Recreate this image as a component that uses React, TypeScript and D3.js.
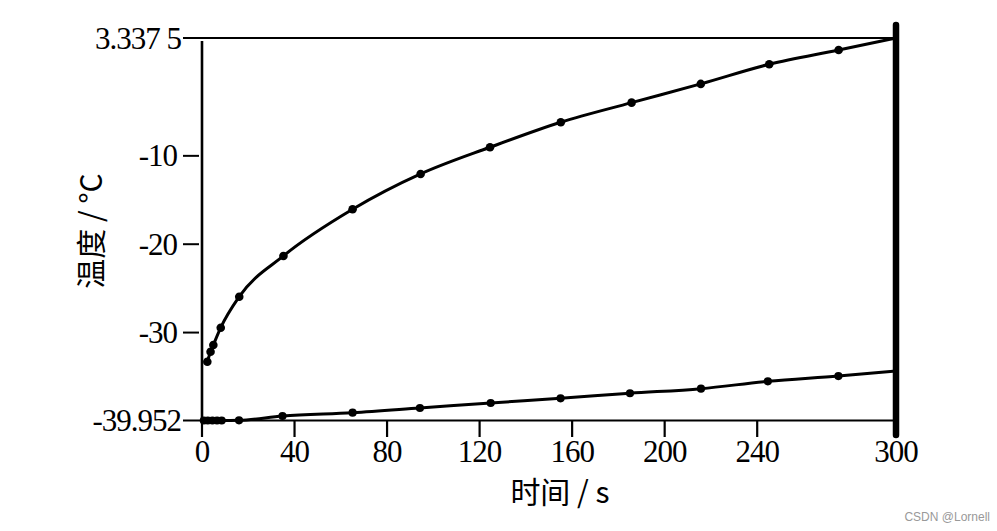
import React from "react";
import * as d3 from "d3";

const upperT = [2.3, 3.7, 4.9, 8.1, 16.1, 35.2, 65.1, 94.5, 124.5, 155.1, 185.7, 215.6, 245.2, 275.2, 300];
const upperV = [-33.3, -32.17, -31.41, -29.45, -25.94, -21.33, -16.05, -12.05, -9.03, -6.2, -3.98, -1.86, 0.36, 1.98, 3.3375];
const upperMarkers = [2.3, 3.7, 4.9, 8.1, 16.1, 35.2, 65.1, 94.5, 124.5, 155.1, 185.7, 215.6, 245.2, 275.2];

const lowerT = [0.8, 2.5, 4.5, 6.5, 8.5, 16, 34.8, 65.1, 94.2, 124.8, 155, 185, 215.7, 244.6, 275.1, 300];
const lowerV = [-39.95, -39.95, -39.95, -39.95, -39.95, -39.93, -39.44, -39.07, -38.54, -37.97, -37.44, -36.87, -36.35, -35.52, -34.92, -34.35];
const lowerMarkers = [0.8, 2.5, 4.5, 6.5, 8.5, 16, 34.8, 65.1, 94.2, 124.8, 155, 185, 215.7, 244.6, 275.1];

const xTicks = [0, 40, 80, 120, 160, 200, 240, 300];
const yShortTicks = [-10, -20, -30];
const yShortLabels = ["-10", "-20", "-30"];
const yFullTicks = [3.3375, -39.952];
const yFullLabels = ["3.337 5", "-39.952"];

const xTitle = "时间 / s";
const yTitle = "温度 / °C";
const watermark = "CSDN @Lornell";

const W = 997;
const H = 531;
const L = 202;
const R = 896;
const T = 38;
const B = 420.5;

export default function App() {
  const x = d3.scaleLinear().domain([0, 300]).range([L, R]);
  const y = d3.scaleLinear().domain([-39.952, 3.3375]).range([B, T]);
  const line = d3
    .line<[number, number]>()
    .x((d) => x(d[0]))
    .y((d) => y(d[1]))
    .curve(d3.curveMonotoneX);

  const upper: [number, number][] = upperT.map((t, i) => [t, upperV[i]]);
  const lower: [number, number][] = lowerT.map((t, i) => [t, lowerV[i]]);
  const upVal = (t: number) => upperV[upperT.indexOf(t)];
  const lowVal = (t: number) => lowerV[lowerT.indexOf(t)];

  const serif = "'Liberation Serif', 'DejaVu Serif', serif";
  const cjk = "'Noto Sans CJK SC', 'Liberation Serif', serif";
  const fs = 31;

  return (
    <svg
      width={W}
      height={H}
      style={{ position: "absolute", left: 0, top: 0, background: "#fff" }}
    >
      <rect x={0} y={0} width={W} height={H} fill="#fff" />
      {yFullTicks.map((v) => (
        <line key={"f" + v} x1={183} x2={R} y1={y(v)} y2={y(v)} stroke="#000" strokeWidth={2.2} />
      ))}
      {yFullTicks.map((v, i) => (
        <text
          key={"fl" + v}
          x={181}
          y={y(v)}
          dy="0.34em"
          textAnchor="end"
          fontFamily={serif}
          fontSize={fs}
          letterSpacing={-1}
        >
          {yFullLabels[i]}
        </text>
      ))}
      {yShortTicks.map((v, i) => (
        <g key={"s" + v}>
          <line x1={183} x2={199} y1={y(v)} y2={y(v)} stroke="#000" strokeWidth={2} />
          <text
            x={177}
            y={y(v)}
            dy="0.34em"
            textAnchor="end"
            fontFamily={serif}
            fontSize={fs}
            letterSpacing={-1}
          >
            {yShortLabels[i]}
          </text>
        </g>
      ))}
      <line x1={L} x2={L} y1={41} y2={B} stroke="#000" strokeWidth={2.6} />
      {xTicks.map((t) => (
        <g key={"x" + t}>
          <line x1={x(t)} x2={x(t)} y1={B} y2={437} stroke="#000" strokeWidth={2.2} />
          <text
            x={x(t)}
            y={462}
            textAnchor="middle"
            fontFamily={serif}
            fontSize={fs}
            letterSpacing={-1}
          >
            {t}
          </text>
        </g>
      ))}
      <path d={line(upper) || ""} fill="none" stroke="#000" strokeWidth={3} />
      <path d={line(lower) || ""} fill="none" stroke="#000" strokeWidth={3} />
      {upperMarkers.map((t) => (
        <circle key={"um" + t} cx={x(t)} cy={y(upVal(t))} r={4.3} fill="#000" />
      ))}
      {lowerMarkers.map((t) => (
        <circle key={"lm" + t} cx={x(t)} cy={y(lowVal(t))} r={4.1} fill="#000" />
      ))}
      <line x1={R} x2={R} y1={25} y2={435} stroke="#000" strokeWidth={6.5} strokeLinecap="round" />
      <text x={560} y={503} textAnchor="middle" fontFamily={cjk} fontSize={30}>
        {xTitle}
      </text>
      <text
        transform="translate(102,231) rotate(-90)"
        textAnchor="middle"
        fontFamily={cjk}
        fontSize={30}
      >
        {yTitle}
      </text>
      <text x={990} y={521} textAnchor="end" fontFamily="'Liberation Sans', Arial, sans-serif" fontSize={12} fill="#999">
        {watermark}
      </text>
    </svg>
  );
}
